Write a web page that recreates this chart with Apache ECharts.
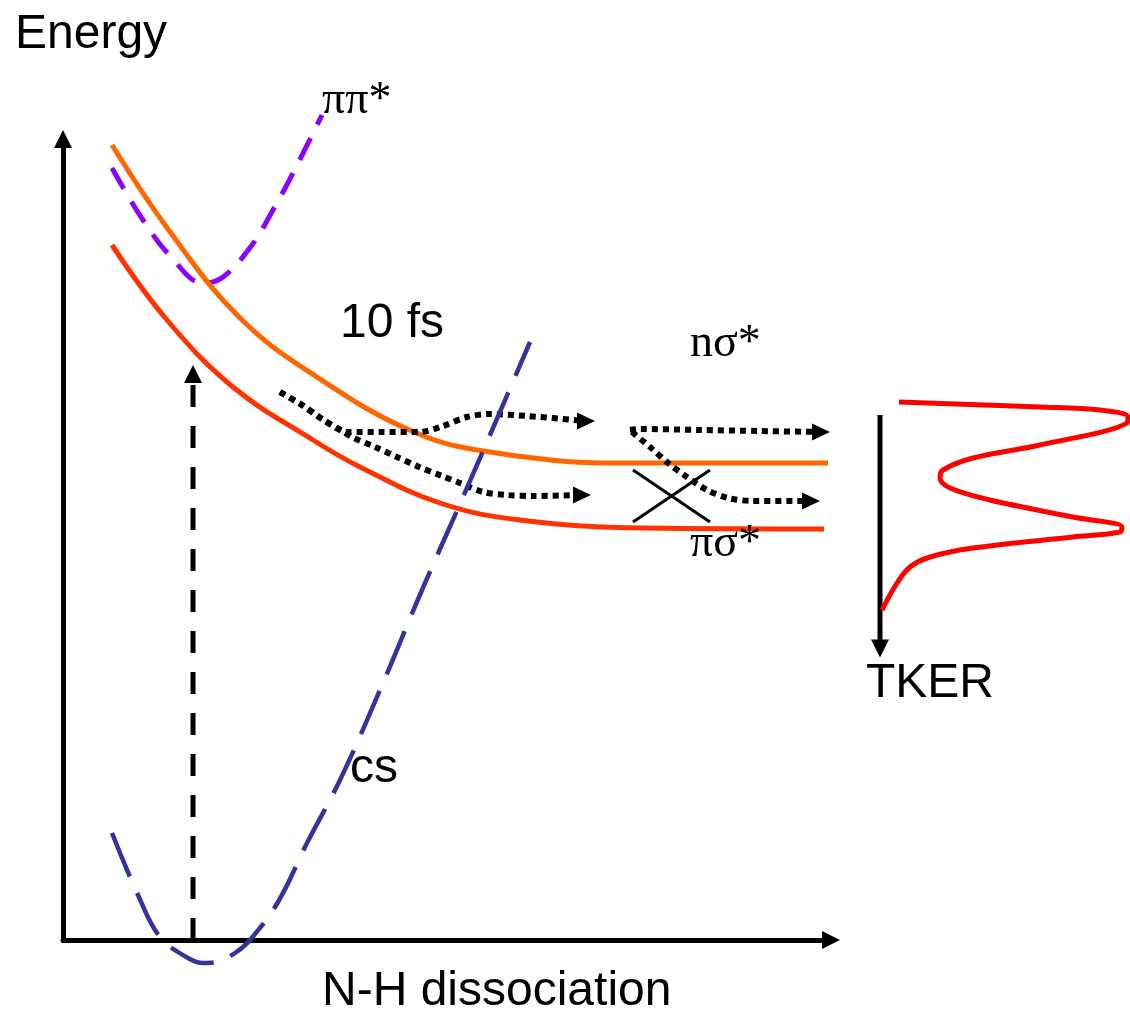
<!DOCTYPE html>
<html>
<head>
<meta charset="utf-8">
<script src="https://cdn.jsdelivr.net/npm/echarts@6/dist/echarts.min.js"></script>
<style>
html,body{margin:0;padding:0;background:#ffffff;}
#chart{width:1130px;height:1011px;}
</style>
</head>
<body>
<div id="chart"></div>
<script>
// ---- data (x: N-H distance units, y: energy units) ----
const nSigmaStar = [[49,795],[105,711],[177,622],[254,563],[351,508],[427,488],[557,477],[765,477]];
const piSigmaStar = [[49,695],[104,620],[170,553],[250,500],[297,473],[377,437],[457,420],[582,412],[761,411]];
const piPiStar = [[49,772],[80,720],[109,682],[140,657],[160,663],[189,695],[210,730],[230,767],[259,825]];
const groundState = [[49,107],[75,45],[97,3],[125,-18],[140,-23],[154,-22],[172,-13],[187,0],[215,38],[244,97],[277,160],[317,250],[359,350],[400,443],[430,512],[467,598]];
const pathTrunk = [[217,548],[239,535],[259,521],[279,509]];
const pathUpperBranch = [[285,508],[317,508],[357,508],[380,514],[404,523],[427,526],[464,524],[523,519]];
const pathLowerBranch = [[289,503],[312,493],[334,483],[356,473],[379,464],[397,457],[420,448],[444,445],[470,444],[519,445]];
const pathRightUpper = [[567,510],[577,511],[637,510],[697,509],[758,508]];
const pathRightLower = [[569,508],[587,493],[605,477],[624,463],[644,450],[665,442],[690,439],[748,439]];
const crossingA = [[570,470],[647,418]];
const crossingB = [[570,418],[647,470]];
const excitation = [[130,0],[130,566]];
const tkerAxis = [[817,525],[817,291.5]];
const tkerProfile = [[836,538],[977,533],[1037,530],[1065,523],[1064,517],[977,495],[910,482],[880,470],[877,462],[887,452],[927,440],[1010,423],[1059,413],[1057,408],[1010,403],[910,392],[867,383],[847,373],[834,357],[819,330]];
const arrowRightHeads = [pathUpperBranch[pathUpperBranch.length-1], pathLowerBranch[pathLowerBranch.length-1], pathRightUpper[pathRightUpper.length-1], pathRightLower[pathRightLower.length-1]];
const arrowUpHeads = [excitation[1]];
const arrowDownHeads = [tkerAxis[1]];

const SANS = '"Liberation Sans", Arial, sans-serif';
const SERIF = '"Liberation Serif", "Times New Roman", serif';

function curve(data, color, width, type, smooth, z, g) {
  return {
    type: 'line', data: data, showSymbol: false, symbol: 'none', clip: false,
    smooth: smooth, silent: true, z: z,
    xAxisIndex: g || 0, yAxisIndex: g || 0,
    lineStyle: { color: color, width: width, type: type, cap: 'butt' }
  };
}
function heads(data, rotate, size, g) {
  return {
    type: 'scatter', data: data, symbol: 'triangle', symbolSize: size,
    symbolRotate: rotate, clip: false, silent: true, z: 10,
    xAxisIndex: g || 0, yAxisIndex: g || 0,
    itemStyle: { color: '#000000', opacity: 1 }
  };
}
function label(text, x, y, font) {
  return { type: 'text', x: x, y: y, silent: true, z: 20,
    style: { text: text, font: font, fill: '#000000', align: 'left', verticalAlign: 'middle' } };
}

const chart = echarts.init(document.getElementById('chart'), null, { renderer: 'canvas' });
const axisCommon = {
  type: 'value',
  axisLine: { show: true, onZero: false, symbol: ['none', 'triangle'], symbolSize: [18, 18],
    lineStyle: { color: '#000000', width: 5 } },
  axisTick: { show: false }, axisLabel: { show: false }, splitLine: { show: false }
};
chart.setOption({
  animation: false,
  backgroundColor: '#ffffff',
  grid: [
    { left: 63, top: 139, width: 768, height: 801, outerBoundsMode: 'none' },
    { left: 831, top: 139, width: 299, height: 801, outerBoundsMode: 'none' }
  ],
  xAxis: [
    Object.assign({}, axisCommon, { min: 0, max: 768, gridIndex: 0 }),
    { type: 'value', gridIndex: 1, min: 768, max: 1067, show: false }
  ],
  yAxis: [
    Object.assign({}, axisCommon, { min: 0, max: 801, gridIndex: 0 }),
    { type: 'value', gridIndex: 1, min: 0, max: 801, show: false }
  ],
  series: [
    curve(piPiStar, '#8B00FF', 5, [24, 15], 0.4, 2),
    curve(piSigmaStar, '#FF3300', 5, 'solid', 0.4, 3),
    curve(nSigmaStar, '#FF6600', 5, 'solid', 0.4, 4),
    curve(pathTrunk.concat(pathUpperBranch), '#000000', 6, [6, 5], 0.3, 5),
    curve(pathTrunk.concat(pathLowerBranch), '#000000', 6, [6, 5], 0.3, 5),
    curve(pathRightUpper, '#000000', 6, [6, 5], 0.3, 5),
    curve(pathRightLower, '#000000', 6, [6, 5], 0.3, 5),
    curve(crossingA, '#000000', 3, 'solid', false, 5),
    curve(crossingB, '#000000', 3, 'solid', false, 5),
    curve(groundState, '#333399', 4.5, [47, 18], 0.4, 6),
    curve(excitation, '#000000', 5, [22, 19], false, 6),
    curve(tkerAxis, '#000000', 5, 'solid', false, 6, 1),
    curve(tkerProfile, '#FF0000', 5, 'solid', 0.35, 6, 1),
    heads(arrowRightHeads, -90, [17, 18]),
    heads(arrowUpHeads, 0, [18, 18]),
    heads(arrowDownHeads, 180, [18, 18], 1)
  ],
  graphic: [
    label('Energy', 15, 35, '48px ' + SANS),
    label('N-H dissociation', 322, 992, '48px ' + SANS),
    label('10 fs', 340, 324, '48px ' + SANS),
    label('cs', 350, 769, '48px ' + SANS),
    label('TKER', 866, 684, '48px ' + SANS),
    label('\u03c0\u03c0*', 322, 101, '46px ' + SERIF),
    label('n\u03c3*', 690, 344, '46px ' + SERIF),
    label('\u03c0\u03c3*', 690, 544, '46px ' + SERIF)
  ]
});
</script>
</body>
</html>
